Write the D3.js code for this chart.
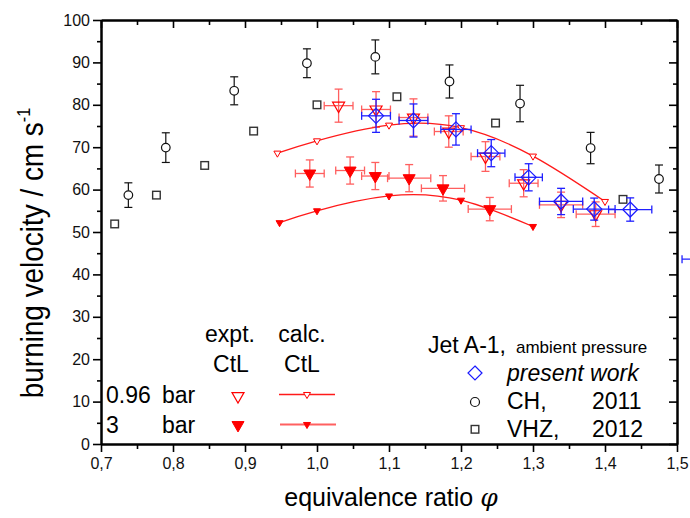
<!DOCTYPE html>
<meta charset="utf-8">
<script src="https://d3js.org/d3.v7.min.js"></script>
<style>
html, body { margin: 0; height: 100%; background: #fff; overflow: hidden; }
svg { display: block; font-family: "Liberation Sans", Arial, sans-serif; }
.axis path { stroke: #000; stroke-width: 2px; }
.axis line { stroke: #000; stroke-width: 1.6px; }
.axis text { font-size: 16px; fill: #111; }
.errRed { stroke: #ff2a2a; stroke-width: 1.3px; fill: none; opacity: 0.75; }
.errBlue { stroke: #2020ff; stroke-width: 1.3px; fill: none; }
.errBlack { stroke: #111; stroke-width: 1.2px; fill: none; }
.calcLine { fill: none; stroke: #ff1a1a; stroke-width: 1.3px; }
.legend text { font-size: 23px; fill: #000; }
</style>
<body></body>
<script>
// CH, 2011 (circles, y error only)
const chPhi = [0.738, 0.790, 0.885, 0.986, 1.081, 1.184, 1.282, 1.380, 1.475];
const chVel = [58.7, 69.9, 83.3, 89.8, 91.3, 85.5, 80.3, 69.8, 62.5];
const chErr = [2.9, 3.5, 3.3, 3.4, 4.0, 3.9, 4.3, 3.7, 3.3];

// VHZ, 2012 (squares)
const vhzPhi = [0.719, 0.777, 0.844, 0.912, 1.000, 1.111, 1.248, 1.425];
const vhzVel = [51.9, 58.7, 65.7, 73.8, 80.0, 81.9, 75.7, 57.7];

// present work (blue diamonds)
const presPhi = [1.082, 1.134, 1.193, 1.242, 1.294, 1.339, 1.385, 1.435, 1.537];
const presVel = [77.4, 76.3, 74.2, 68.6, 62.9, 57.2, 55.4, 55.3, 43.6];
const presPhiErr = [0.020, 0.020, 0.021, 0.019, 0.019, 0.030, 0.029, 0.030, 0.030];
const presVelErr = [3.9, 3.9, 3.7, 3.2, 3.2, 3.1, 2.6, 2.75, 2.6];

// expt. CtL 0.96 bar (open triangles)
const e096Phi = [1.030, 1.082, 1.134, 1.183, 1.234, 1.287, 1.339, 1.387];
const e096Vel = [79.8, 78.9, 77.0, 73.7, 67.8, 61.5, 56.4, 54.2];
const e096PhiErr = [0.020, 0.020, 0.020, 0.020, 0.020, 0.020, 0.030, 0.027];
const e096VelErr = [3.9, 4.2, 4.4, 3.7, 3.5, 3.2, 3.0, 2.9];

// expt. CtL 3 bar (filled triangles)
const e3Phi = [0.990, 1.046, 1.081, 1.128, 1.175, 1.240];
const e3Vel = [63.8, 64.5, 63.2, 62.7, 60.3, 55.4];
const e3PhiErr = [0.020, 0.020, 0.019, 0.030, 0.030, 0.030];
const e3VelErr = [3.2, 3.2, 3.2, 3.2, 3.0, 2.75];

// calc. CtL
const c096Phi = [0.945, 1.0, 1.1, 1.2, 1.3, 1.4];
const c096Vel = [68.6, 71.5, 75.2, 74.6, 67.9, 57.2];
const c3Phi = [0.948, 1.0, 1.1, 1.2, 1.3];
const c3Vel = [52.2, 55.0, 58.5, 57.5, 51.3];

const xTicks = [0.7, 0.8, 0.9, 1.0, 1.1, 1.2, 1.3, 1.4, 1.5];
const yTicks = [0, 10, 20, 30, 40, 50, 60, 70, 80, 90, 100];

const width = 690, height = 518;
const margin = {top: 20, right: 13, bottom: 74, left: 101};
const innerWidth = width - margin.left - margin.right;
const innerHeight = height - margin.top - margin.bottom;

// scales to the window, so nothing is cut if the viewport differs
const svg = d3.select("body").append("svg")
  .attr("viewBox", "0 0 " + width + " " + height)
  .attr("width", "100%")
  .attr("height", "100%");

const g = svg.append("g")
  .attr("transform", "translate(" + margin.left + "," + margin.top + ")");

const x = d3.scaleLinear().domain([0.7, 1.5]).range([0, innerWidth]);
const y = d3.scaleLinear().domain([0, 100]).range([innerHeight, 0]);

const fmt = d => d3.format(".1f")(d).replace(".", ",");
const minorX = d3.range(0.75, 1.5, 0.1);
const minorY = d3.range(5, 100, 10);
const noText = sel => sel.selectAll("text").remove();

// axes: outward ticks bottom/left, inward ticks top/right
g.append("g").attr("class", "axis")
  .attr("transform", "translate(0," + innerHeight + ")")
  .call(d3.axisBottom(x).tickValues(minorX).tickSize(5).tickSizeOuter(0))
  .call(noText);
g.append("g").attr("class", "axis")
  .attr("transform", "translate(0," + innerHeight + ")")
  .call(d3.axisBottom(x).tickValues(xTicks).tickSize(8).tickSizeOuter(0).tickPadding(6).tickFormat(fmt));
g.append("g").attr("class", "axis")
  .call(d3.axisLeft(y).tickValues(minorY).tickSize(4).tickSizeOuter(0))
  .call(noText);
g.append("g").attr("class", "axis")
  .call(d3.axisLeft(y).tickValues(yTicks).tickSize(8).tickSizeOuter(0).tickPadding(3));
g.append("g").attr("class", "axis")
  .call(d3.axisTop(x).tickValues(minorX).tickSize(-5).tickSizeOuter(0))
  .call(noText);
g.append("g").attr("class", "axis")
  .call(d3.axisTop(x).tickValues(xTicks).tickSize(-8).tickSizeOuter(0))
  .call(noText);
g.append("g").attr("class", "axis")
  .attr("transform", "translate(" + innerWidth + ",0)")
  .call(d3.axisRight(y).tickValues(minorY).tickSize(-4).tickSizeOuter(0))
  .call(noText);
g.append("g").attr("class", "axis")
  .attr("transform", "translate(" + innerWidth + ",0)")
  .call(d3.axisRight(y).tickValues(yTicks).tickSize(-8).tickSizeOuter(0))
  .call(noText);

// axis titles
svg.append("text")
  .attr("x", 391).attr("y", 506)
  .attr("text-anchor", "middle")
  .style("font-size", "25px")
  .text("equivalence ratio ")
  .append("tspan")
  .style("font-family", "'DejaVu Serif', 'Liberation Serif', serif")
  .style("font-style", "italic")
  .text("φ");

const yl = svg.append("text")
  .attr("transform", "translate(43,253) rotate(-90) scale(0.9,1)")
  .attr("text-anchor", "middle")
  .style("font-size", "31px")
  .text("burning velocity / cm s");
yl.append("tspan").attr("dy", -13).style("font-size", "18px").text("-1");

// helpers
function errorBars(cls, phi, vel, phiErr, velErr, cap) {
  const eg = g.append("g").attr("class", cls);
  phi.forEach((p, i) => {
    const cx = x(p), cy = y(vel[i]);
    if (velErr) {
      const y0 = y(vel[i] - velErr[i]), y1 = y(vel[i] + velErr[i]);
      eg.append("line").attr("x1", cx).attr("x2", cx).attr("y1", y0).attr("y2", y1);
      eg.append("line").attr("x1", cx - cap).attr("x2", cx + cap).attr("y1", y0).attr("y2", y0);
      eg.append("line").attr("x1", cx - cap).attr("x2", cx + cap).attr("y1", y1).attr("y2", y1);
    }
    if (phiErr) {
      const x0 = x(p - phiErr[i]), x1 = x(p + phiErr[i]);
      eg.append("line").attr("x1", x0).attr("x2", x1).attr("y1", cy).attr("y2", cy);
      eg.append("line").attr("x1", x0).attr("x2", x0).attr("y1", cy - cap).attr("y2", cy + cap);
      eg.append("line").attr("x1", x1).attr("x2", x1).attr("y1", cy - cap).attr("y2", cy + cap);
    }
  });
}

function downTri(side) {
  const h = side * Math.sqrt(3) / 2;
  return "M" + (-side / 2) + "," + (-h / 3) + "L" + (side / 2) + "," + (-h / 3) + "L0," + (2 * h / 3) + "Z";
}
function diamond(r) {
  return "M0," + (-r) + "L" + r + ",0L0," + r + "L" + (-r) + ",0Z";
}
const zip = (a, b) => a.map((v, i) => [v, b[i]]);

// VHZ squares
g.selectAll(".vhz").data(zip(vhzPhi, vhzVel)).enter().append("rect")
  .attr("x", d => x(d[0]) - 3.8).attr("y", d => y(d[1]) - 3.8)
  .attr("width", 7.6).attr("height", 7.6)
  .style("fill", "#fff").style("stroke", "#333").style("stroke-width", 1.4);

// CH circles
errorBars("errBlack", chPhi, chVel, null, chErr, 4);
g.selectAll(".ch").data(zip(chPhi, chVel)).enter().append("circle")
  .attr("cx", d => x(d[0])).attr("cy", d => y(d[1])).attr("r", 4.3)
  .style("fill", "#fff").style("stroke", "#111").style("stroke-width", 1.2);

// calc lines
const line = d3.line().x(d => x(d[0])).y(d => y(d[1])).curve(d3.curveNatural);
g.append("path").attr("class", "calcLine").attr("d", line(zip(c096Phi, c096Vel)));
g.append("path").attr("class", "calcLine").attr("d", line(zip(c3Phi, c3Vel)));
g.selectAll(".c096").data(zip(c096Phi, c096Vel)).enter().append("path")
  .attr("d", downTri(7)).attr("transform", d => "translate(" + x(d[0]) + "," + y(d[1]) + ")")
  .style("fill", "#fff").style("stroke", "#f00").style("stroke-width", 1);
g.selectAll(".c3").data(zip(c3Phi, c3Vel)).enter().append("path")
  .attr("d", downTri(7)).attr("transform", d => "translate(" + x(d[0]) + "," + y(d[1]) + ")")
  .style("fill", "#f00").style("stroke", "#f00").style("stroke-width", 1);

// expt 3 bar
errorBars("errRed", e3Phi, e3Vel, e3PhiErr, e3VelErr, 4);
g.selectAll(".e3").data(zip(e3Phi, e3Vel)).enter().append("path")
  .attr("d", downTri(12)).attr("transform", d => "translate(" + x(d[0]) + "," + y(d[1]) + ")")
  .style("fill", "#f00").style("stroke", "#f00").style("stroke-width", 1);

// expt 0.96 bar
errorBars("errRed", e096Phi, e096Vel, e096PhiErr, e096VelErr, 4);
g.selectAll(".e096").data(zip(e096Phi, e096Vel)).enter().append("path")
  .attr("d", downTri(12)).attr("transform", d => "translate(" + x(d[0]) + "," + y(d[1]) + ")")
  .style("fill", "none").style("stroke", "#f00").style("stroke-width", 1.2);

// present work
errorBars("errBlue", presPhi, presVel, presPhiErr, presVelErr, 4);
g.selectAll(".pres").data(zip(presPhi, presVel)).enter().append("path")
  .attr("d", diamond(7.5)).attr("transform", d => "translate(" + x(d[0]) + "," + y(d[1]) + ")")
  .style("fill", "none").style("stroke", "#1a1aff").style("stroke-width", 1.2);

// legend (left)
const lg = svg.append("g").attr("class", "legend");
lg.append("text").attr("x", 230).attr("y", 342).attr("text-anchor", "middle").text("expt.");
lg.append("text").attr("x", 231).attr("y", 372).attr("text-anchor", "middle").text("CtL");
lg.append("text").attr("x", 302).attr("y", 342).attr("text-anchor", "middle").text("calc.");
lg.append("text").attr("x", 302).attr("y", 372).attr("text-anchor", "middle").text("CtL");
lg.append("text").attr("x", 106).attr("y", 403).text("0.96");
lg.append("text").attr("x", 162).attr("y", 403).text("bar");
lg.append("text").attr("x", 106).attr("y", 433).text("3");
lg.append("text").attr("x", 162).attr("y", 433).text("bar");
lg.append("path").attr("d", downTri(12)).attr("transform", "translate(238,396)")
  .style("fill", "none").style("stroke", "#f00").style("stroke-width", 1.2);
lg.append("path").attr("d", downTri(12)).attr("transform", "translate(238,425)")
  .style("fill", "#f00").style("stroke", "#f00");
lg.append("line").attr("x1", 279).attr("x2", 335).attr("y1", 394.5).attr("y2", 394.5)
  .attr("class", "calcLine");
lg.append("line").attr("x1", 280).attr("x2", 336).attr("y1", 424.5).attr("y2", 424.5)
  .attr("class", "calcLine").style("stroke", "#ff6060").style("stroke-width", 1.8);
lg.append("path").attr("d", downTri(7)).attr("transform", "translate(307,394.5)")
  .style("fill", "#fff").style("stroke", "#f00");
lg.append("path").attr("d", downTri(7)).attr("transform", "translate(307,424.5)")
  .style("fill", "#f00").style("stroke", "#f00");

// legend (right)
const jt = lg.append("text").attr("x", 428).attr("y", 353).text("Jet A-1,");
jt.append("tspan").attr("dx", 10).style("font-size", "17px").text("ambient pressure");
lg.append("path").attr("d", diamond(7)).attr("transform", "translate(475,373)")
  .style("fill", "none").style("stroke", "#1a1aff").style("stroke-width", 1.2);
lg.append("text").attr("x", 507).attr("y", 381).style("font-style", "italic").text("present work");
lg.append("circle").attr("cx", 475).attr("cy", 402).attr("r", 4.5)
  .style("fill", "#fff").style("stroke", "#111").style("stroke-width", 1.2);
lg.append("text").attr("x", 507).attr("y", 409).text("CH,");
lg.append("text").attr("x", 592).attr("y", 409).text("2011");
lg.append("rect").attr("x", 471.2).attr("y", 425.5).attr("width", 7.6).attr("height", 7.6)
  .style("fill", "#fff").style("stroke", "#333").style("stroke-width", 1.4);
lg.append("text").attr("x", 507).attr("y", 437).text("VHZ,");
lg.append("text").attr("x", 592).attr("y", 437).text("2012");
</script>
